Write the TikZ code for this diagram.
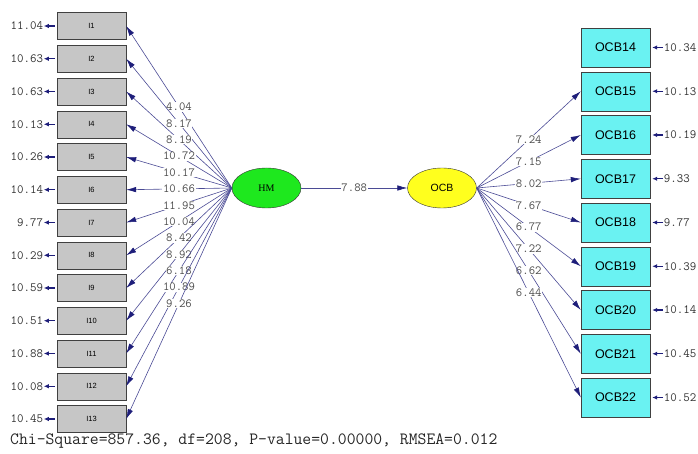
\documentclass[tikz,border=0pt]{standalone}
\usepackage{fontspec}
\setmainfont{Liberation Serif}
\newfontfamily\sansfont{Liberation Sans}
\usetikzlibrary{shapes.geometric,arrows.meta,positioning}
\definecolor{PathBlue}{HTML}{1E1E7A}
\definecolor{BoxGray}{HTML}{C6C6C6}
\definecolor{LatGreen}{HTML}{1EE81E}
\definecolor{LatYellow}{HTML}{FFFF1E}
\definecolor{BoxCyan}{HTML}{6AF2F2}

\tikzset{
  itembox/.style={draw=black!75, fill=BoxGray, minimum width=69pt, minimum height=27pt,
                  inner sep=0pt, font=\fontsize{7.5}{7.5}\sansfont},
  ocbbox/.style={draw=black!75, fill=BoxCyan, minimum width=69pt, minimum height=39pt,
                 inner sep=0pt, font=\fontsize{12.5}{12.5}\sansfont},
  latent/.style={ellipse, draw=black!80, minimum width=69pt, minimum height=40pt, inner sep=0pt},
  loading/.style={draw=PathBlue!80, line width=0.6pt,
                  -{Latex[length=10pt,width=5.5pt,color=PathBlue]}},
  tval/.style={fill=white, inner sep=0.6pt, font=\fontsize{12.4}{12.4}\ttfamily, text=black!70},
  errval/.style={inner sep=0.5pt, font=\fontsize{12.6}{12.6}\ttfamily, text=black!80},
  errarrow/.style={draw=PathBlue, line width=1.3pt, -{Latex[length=5pt,width=4.5pt]}},
}

\begin{document}
\begin{tikzpicture}[x=1pt, y=-1pt]
  \useasboundingbox (0,0) rectangle (698,454);

  % latent variables
  \node[latent, fill=LatGreen, font=\fontsize{10}{10}\selectfont] (HM) at (266.5,188) {HM};
  \node[latent, fill=LatYellow, font=\fontsize{10.5}{10.5}\sansfont] (OCB) at (442,188) {OCB};
  \draw[loading] (HM) -- node[tval] {7.88} (OCB);

  % HM indicators
  \foreach \i/\t/\e in {1/4.04/11.04, 2/8.17/10.63, 3/8.19/10.63, 4/10.72/10.13,
                        5/10.17/10.26, 6/10.66/10.14, 7/11.95/9.77, 8/10.04/10.29,
                        9/8.42/10.59, 10/8.92/10.51, 11/6.18/10.88, 12/10.89/10.08,
                        13/9.26/10.45} {
    \node[itembox] (I\i) at (91.5,{26+32.75*(\i-1)}) {I\i};
    \node[errval, left=13pt of I\i] (eI\i) {\e};
    \draw[errarrow, shorten <=2pt] (I\i.west) -- (eI\i.east);
    \draw[loading] (HM.west) -- node[tval] {\t} (I\i.east);
  }

  % OCB indicators
  \node[ocbbox] (OCB14) at (615.5,47.5) {OCB14};
  \node[errval, right=13pt of OCB14] (eOCB14) {10.34};
  \draw[errarrow, shorten >=2pt] (eOCB14.west) -- (OCB14.east);
  \foreach \i/\t/\e in {15/7.24/10.13, 16/7.15/10.19, 17/8.02/9.33, 18/7.67/9.77,
                        19/6.77/10.39, 20/7.22/10.14, 21/6.62/10.45, 22/6.44/10.52} {
    \node[ocbbox] (OCB\i) at (615.5,{47.5+43.75*(\i-14)}) {OCB\i};
    \node[errval, right=13pt of OCB\i] (eOCB\i) {\e};
    \draw[errarrow, shorten >=2pt] (eOCB\i.west) -- (OCB\i.east);
    \draw[loading] (OCB.east) -- node[tval] {\t} (OCB\i.west);
  }

  % fit statistics
  \node[anchor=west, inner sep=0pt, text=black!85, font=\fontsize{17.2}{17.2}\ttfamily]
    (fit) at (10,441) {Chi-Square=857.36, df=208, P-value=0.00000, RMSEA=0.012};
\end{tikzpicture}
\end{document}
